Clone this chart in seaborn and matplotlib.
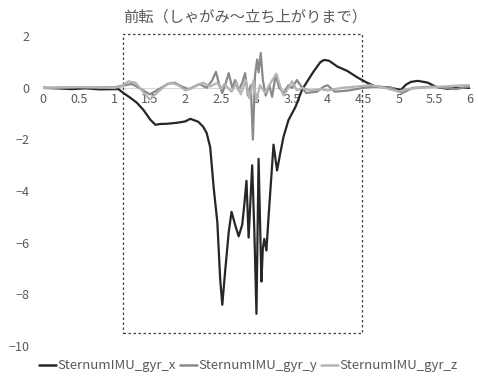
import numpy as np
import pandas as pd
import matplotlib
matplotlib.use("Agg")
import matplotlib.pyplot as plt
from matplotlib.patches import Rectangle
import seaborn as sns

# --------------------------------------------------------------------------
# Data
# --------------------------------------------------------------------------
title = "前転（しゃがみ～立ち上がりまで）"
series_names = ["SternumIMU_gyr_x", "SternumIMU_gyr_y", "SternumIMU_gyr_z"]

t_x = [0, 0.2, 0.4, 0.6, 0.8, 1.0, 1.06, 1.13, 1.23, 1.32, 1.41, 1.51, 1.58, 1.65,
       1.75, 1.89, 2.0, 2.07, 2.18, 2.25, 2.3, 2.35, 2.4, 2.45, 2.49, 2.52, 2.56,
       2.61, 2.65, 2.7, 2.75, 2.8, 2.83, 2.86, 2.89, 2.94, 2.97, 3.0, 3.03, 3.07,
       3.09, 3.11, 3.14, 3.17, 3.24, 3.29, 3.33, 3.38, 3.45, 3.55, 3.64, 3.71, 3.8,
       3.9, 3.95, 4.02, 4.14, 4.2, 4.28, 4.42, 4.56, 4.68, 4.85, 5.03, 5.1, 5.17,
       5.27, 5.41, 5.52, 5.69, 5.83, 6.0]
gyr_x = [0, -0.02, -0.05, -0.02, -0.06, -0.05, -0.05, -0.2, -0.39, -0.58, -0.85,
         -1.24, -1.43, -1.4, -1.39, -1.35, -1.3, -1.2, -1.31, -1.5, -1.75, -2.3,
         -3.9, -5.2, -7.4, -8.4, -7.1, -5.6, -4.8, -5.3, -5.75, -5.3, -4.5, -3.6,
         -5.8, -3.0, -5.5, -8.75, -2.75, -7.5, -6.2, -5.85, -6.3, -5.0, -2.2, -3.2,
         -2.6, -1.9, -1.25, -0.73, -0.08, 0.23, 0.62, 1.0, 1.08, 1.05, 0.82, 0.75,
         0.65, 0.4, 0.19, 0.04, 0.02, -0.08, 0.12, 0.23, 0.27, 0.2, 0.04, -0.04, 0, 0]

t_y = [0, 0.5, 1.0, 1.15, 1.25, 1.35, 1.5, 1.6, 1.75, 1.85, 1.95, 2.05, 2.2, 2.3,
       2.38, 2.43, 2.48, 2.52, 2.57, 2.61, 2.66, 2.7, 2.75, 2.8, 2.84, 2.88, 2.92,
       2.95, 2.98, 3.01, 3.03, 3.06, 3.09, 3.13, 3.18, 3.22, 3.27, 3.32, 3.38, 3.45,
       3.5, 3.57, 3.63, 3.7, 3.85, 3.95, 4.0, 4.1, 4.3, 4.5, 4.7, 4.9, 5.05, 5.2,
       5.5, 5.8, 6.0]
gyr_y = [0, 0.02, 0.02, 0.1, 0.15, 0.0, -0.25, -0.1, 0.15, 0.2, 0.05, -0.05, 0.15,
         0.0, 0.3, 0.62, 0.1, -0.2, 0.2, 0.57, 0.0, 0.3, -0.1, 0.2, 0.57, -0.3, 0.1,
         -2.0, 0.5, 1.1, 0.6, 1.35, 0.3, -0.3, 0.1, -0.35, 0.5, 0.0, -0.2, 0.1, 0.0,
         0.3, 0.05, -0.2, -0.15, 0.05, 0.1, -0.15, -0.1, 0.0, 0.05, 0.0, -0.2, 0.0,
         0.05, -0.05, 0.05]

t_z = [0, 0.5, 1.0, 1.1, 1.2, 1.3, 1.42, 1.5, 1.58, 1.7, 1.8, 1.9, 2.0, 2.1, 2.25,
       2.35, 2.45, 2.5, 2.55, 2.65, 2.72, 2.78, 2.85, 2.9, 2.96, 3.0, 3.05, 3.12,
       3.2, 3.28, 3.33, 3.38, 3.45, 3.5, 3.57, 3.65, 3.75, 3.9, 4.0, 4.2, 4.4, 4.6,
       4.8, 5.0, 5.1, 5.3, 5.6, 5.9, 6.0]
gyr_z = [0, 0.03, 0, 0.05, 0.25, 0.2, -0.2, -0.45, -0.25, 0.05, 0.2, 0.1, -0.1, 0.0,
         0.2, 0.05, 0.2, -0.05, 0.15, -0.15, 0.2, -0.25, 0.3, -0.4, 0.3, -0.5, 0.1,
         -0.2, 0.2, 0.55, 0.1, -0.3, 0.0, 0.25, -0.1, 0.0, -0.1, -0.05, -0.1, 0.0,
         0.05, 0.1, 0.0, -0.15, -0.05, 0.0, 0.05, 0.1, 0.1]

x_ticks = [0, 0.5, 1, 1.5, 2, 2.5, 3, 3.5, 4, 4.5, 5, 5.5, 6]
x_tick_labels = ["0", "0.5", "1", "1.5", "2", "2.5", "3", "3.5", "4", "4.5", "5", "5.5", "6"]
y_ticks = [2, 0, -2, -4, -6, -8, -10]

# highlighted interval (dashed box)
box_x = [1.13, 4.49]
box_y = [-9.5, 2.1]

colors = ["#262626", "#8a8a8a", "#b4b4b4"]

# --------------------------------------------------------------------------
# Plot
# --------------------------------------------------------------------------
sns.set_style("white")
plt.rcParams["font.family"] = ["Noto Sans CJK JP", "DejaVu Sans"]

df = pd.concat([
    pd.DataFrame({"t": t_x, "val": gyr_x, "series": series_names[0]}),
    pd.DataFrame({"t": t_y, "val": gyr_y, "series": series_names[1]}),
    pd.DataFrame({"t": t_z, "val": gyr_z, "series": series_names[2]}),
], ignore_index=True)

fig = plt.figure(figsize=(4.78, 3.77), dpi=100)
ax = fig.add_axes([0.09, 0.082, 0.893, 0.822])

sns.lineplot(data=df, x="t", y="val", hue="series", hue_order=series_names,
             palette=colors, linewidth=1.6, ax=ax, legend=False)

ax.set_xlim(0, 6)
ax.set_ylim(-10, 2)
ax.set_xticks(x_ticks)
ax.set_xticklabels(x_tick_labels)
ax.set_yticks(y_ticks)
ax.set_xlabel("")
ax.set_ylabel("")

for s in ["top", "right", "left"]:
    ax.spines[s].set_visible(False)
ax.spines["bottom"].set_position(("data", 0))
ax.spines["bottom"].set_color("#d9d9d9")
ax.spines["bottom"].set_zorder(0)
ax.tick_params(axis="both", length=0, labelsize=9, colors="#595959")
ax.tick_params(axis="x", pad=4)
ax.tick_params(axis="y", pad=10)

ax.add_patch(Rectangle((box_x[0], box_y[0]), box_x[1] - box_x[0], box_y[1] - box_y[0],
                       fill=False, edgecolor="#404040", linestyle=(0, (2, 2)),
                       linewidth=0.9, clip_on=False))

fig.text(0.513, 0.955, title, ha="center", va="center", fontsize=11, color="#595959")

handles = [plt.Line2D([], [], color=c, linewidth=1.8) for c in colors]
fig.legend(handles, series_names, loc="center", bbox_to_anchor=(0.52, 0.03), ncol=3,
           frameon=False, fontsize=9.5, handlelength=1.3, handletextpad=0.1,
           columnspacing=0.3, labelcolor="#595959")

fig.savefig("out.png", dpi=100)
